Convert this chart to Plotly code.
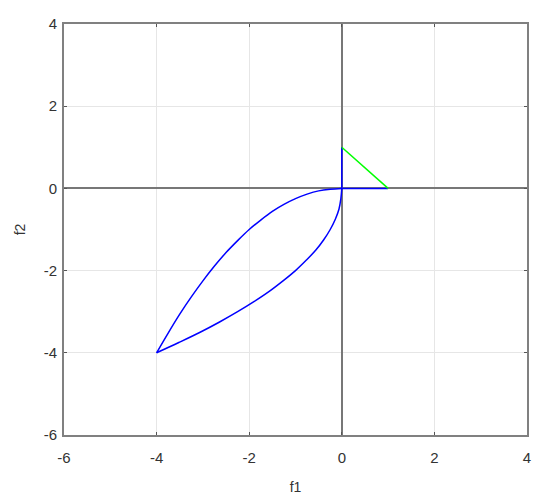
import plotly.graph_objects as go

# Upper boundary curve
upper_x = [-4.0, -3.75, -3.5, -3.25, -3.0, -2.75, -2.5, -2.25, -2.0, -1.75, -1.5, -1.25, -1.0, -0.75, -0.5, -0.25, 0.0]
upper_y = [-4.0, -3.52, -3.06, -2.64, -2.25, -1.89, -1.56, -1.27, -1.0, -0.77, -0.56, -0.39, -0.25, -0.14, -0.06, -0.02, 0.0]
# Lower boundary curve
lower_x = [-4.0, -3.52, -3.06, -2.64, -2.25, -1.89, -1.56, -1.27, -1.0, -0.77, -0.56, -0.39, -0.25, -0.14, -0.06, -0.02, 0.0]
lower_y = [-4.0, -3.75, -3.5, -3.25, -3.0, -2.75, -2.5, -2.25, -2.0, -1.75, -1.5, -1.25, -1.0, -0.75, -0.5, -0.25, 0.0]
# Blue axis segments
seg_x = [1.0, 0.0, 0.0]
seg_y = [0.0, 0.0, 1.0]
# Green segment
green_x = [0.0, 1.0]
green_y = [1.0, 0.0]

x_ticks = [-6, -4, -2, 0, 2, 4]
y_ticks = [-6, -4, -2, 0, 2, 4]

blue = "#0000ff"
fig = go.Figure()
fig.add_trace(go.Scatter(x=upper_x, y=upper_y, mode="lines", line=dict(color=blue, width=1.5, shape="spline"), showlegend=False))
fig.add_trace(go.Scatter(x=lower_x, y=lower_y, mode="lines", line=dict(color=blue, width=1.5, shape="spline"), showlegend=False))
fig.add_trace(go.Scatter(x=seg_x, y=seg_y, mode="lines", line=dict(color=blue, width=1.5), showlegend=False))
fig.add_trace(go.Scatter(x=green_x, y=green_y, mode="lines", line=dict(color="#00ff00", width=1.5), showlegend=False))

axis_common = dict(
    showgrid=True, gridcolor="#e6e6e6", gridwidth=1,
    zeroline=True, zerolinecolor="#777777", zerolinewidth=2,
    showline=True, linecolor="#808080", linewidth=2, mirror="ticks",
    ticks="inside", ticklen=3, tickcolor="#555555", tickwidth=1,
    tickfont=dict(family="Liberation Sans, Arial", size=15, color="#333333"),
    automargin=False,
)
fig.update_layout(
    width=550, height=504,
    margin=dict(l=64, r=23, t=24, b=69),
    plot_bgcolor="white", paper_bgcolor="white",
    xaxis=dict(range=[-6, 4], tickvals=x_ticks, ticktext=[str(v) for v in x_ticks],
               ticklabelstandoff=8,
               title=dict(text="f1", font=dict(family="Liberation Sans, Arial", size=14, color="#333333"), standoff=17),
               **axis_common),
    yaxis=dict(range=[-6, 4], tickvals=y_ticks, ticktext=[str(v) for v in y_ticks],
               ticklabelstandoff=2,
               title=dict(text="f2", font=dict(family="Liberation Sans, Arial", size=14, color="#333333"), standoff=15),
               **axis_common),
)
fig.write_html("out.html", post_script="document.body.style.margin='0px';",
               config={"displayModeBar": False})
